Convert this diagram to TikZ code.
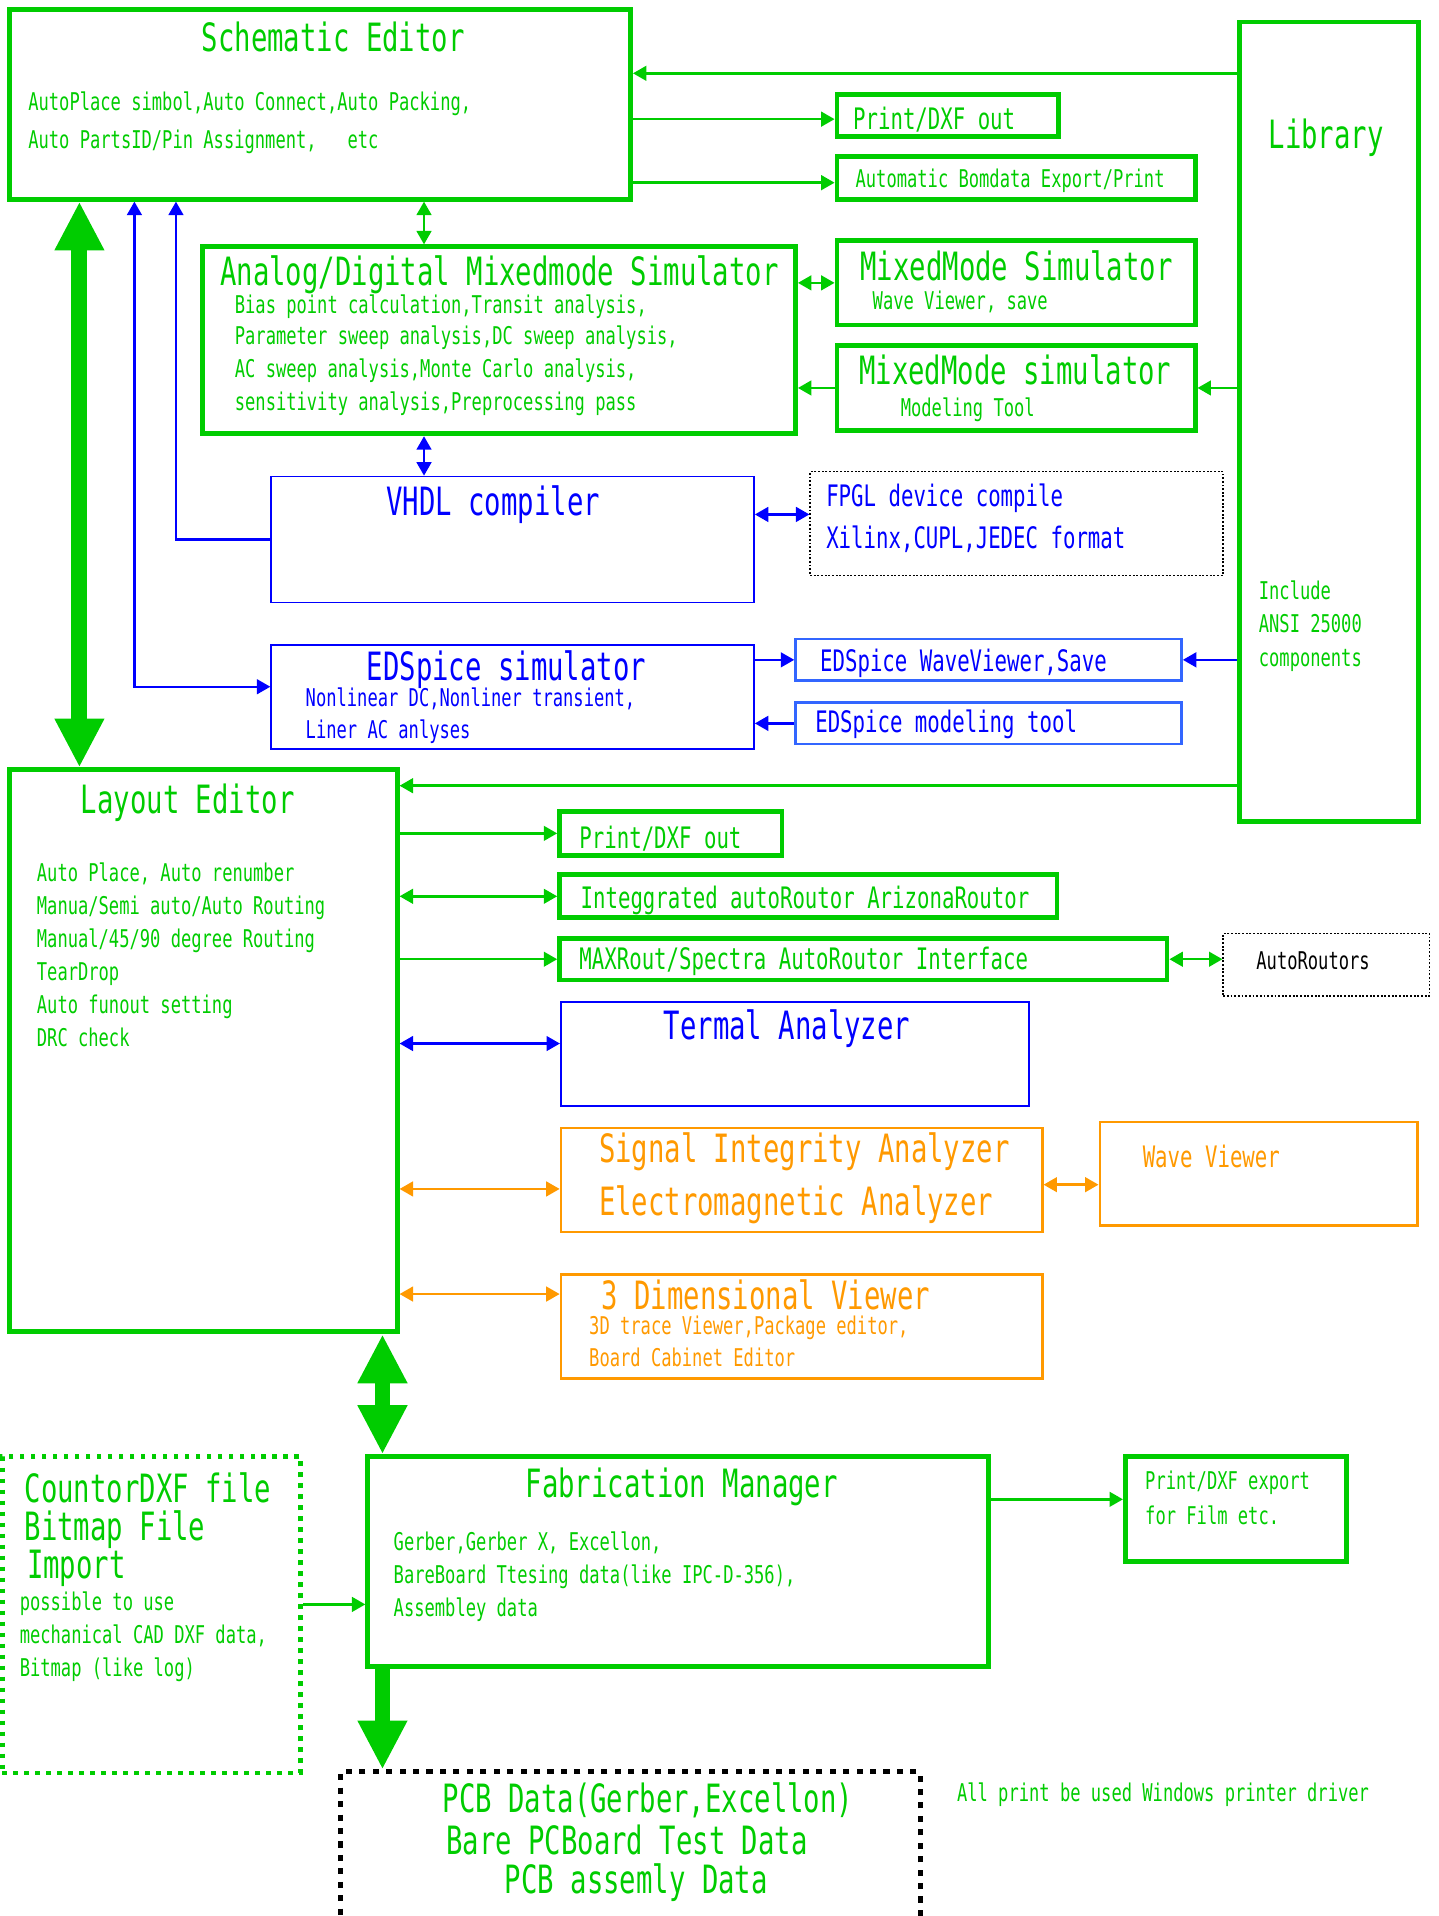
\documentclass[tikz,border=0pt]{standalone}
\usepackage{fontspec}
\usetikzlibrary{arrows.meta}
\newfontfamily\gothic[FakeStretch=0.7]{DejaVu Sans Mono}
\definecolor{cadgreen}{RGB}{0,204,0}
\definecolor{cadblue}{RGB}{0,0,255}
\definecolor{paleblue}{RGB}{51,102,255}
\definecolor{cadorange}{RGB}{255,153,0}

\tikzset{
  gbox/.style={draw=cadgreen, line width=4pt, inner sep=0pt},
  bbox/.style={draw=cadblue, line width=1.5pt, inner sep=0pt},
  pbox/.style={draw=paleblue, line width=2pt, inner sep=0pt},
  obox/.style={draw=cadorange, line width=2pt, inner sep=0pt},
  kbox/.style={draw=black, line width=1.2pt, dash pattern=on 1.5pt off 1.5pt, inner sep=0pt},
  gdots/.style={draw=cadgreen, line width=4pt, dash pattern=on 4pt off 5pt, inner sep=0pt},
  kdots/.style={draw=black, line width=4pt, dash pattern=on 5pt off 6pt, inner sep=0pt},
  ttl/.style={font=\gothic\fontsize{31.9}{36}\selectfont, inner sep=0pt, anchor=west, text height=23pt, text depth=0pt},
  mtx/.style={font=\gothic\fontsize{24.2}{28}\selectfont, inner sep=0pt, anchor=west, text height=17.5pt, text depth=0pt},
  stx/.style={font=\gothic\fontsize{20}{24}\selectfont, inner sep=0pt, anchor=west, text height=14.5pt, text depth=0pt},
  onehead/.style={-{Triangle[length=11pt,width=12pt]}},
  twoheads/.style={{Triangle[length=11pt,width=12pt]}-{Triangle[length=11pt,width=12pt]}},
  gline/.style={draw=cadgreen, line width=2pt},
  bline/.style={draw=cadblue, line width=2pt},
  oline/.style={draw=cadorange, line width=2pt},
  bigarrow/.style={draw=cadgreen, line width=13pt},
  fathead/.style={-{Triangle[length=40pt,width=38pt]}},
  fatheads/.style={{Triangle[length=40pt,width=38pt]}-{Triangle[length=40pt,width=38pt]}},
}

\begin{document}
\begin{tikzpicture}[x=1pt,y=1pt]
\useasboundingbox (0,0) rectangle (1177,-1568);
\clip (0,0) rectangle (1177,-1568);

% boxes
\node[gbox, minimum width=508pt, minimum height=155pt] (sch) at (262,-85.5) {};
\node[gbox, minimum width=147pt, minimum height=654pt] (lib) at (1087.5,-345) {};
\node[gbox, minimum width=181pt, minimum height=35pt] (pdfa) at (775.5,-94.5) {};
\node[gbox, minimum width=293pt, minimum height=35pt] (bom) at (831.5,-145.5) {};
\node[gbox, minimum width=485pt, minimum height=153pt] (mixsim) at (408.5,-278.5) {};
\node[gbox, minimum width=293pt, minimum height=69pt] (wave1) at (831.5,-231.5) {};
\node[gbox, minimum width=293pt, minimum height=69pt] (model1) at (831.5,-317.5) {};
\node[bbox, minimum width=395pt, minimum height=103pt] (vhdl) at (419.5,-441.5) {};
\node[kbox, minimum width=338pt, minimum height=85pt] (fpgl) at (832,-428.5) {};
\node[bbox, minimum width=395pt, minimum height=85pt] (edspice) at (419.5,-570.5) {};
\node[pbox, minimum width=316pt, minimum height=34pt] (edwave) at (809,-540) {};
\node[pbox, minimum width=316pt, minimum height=34pt] (edmodel) at (809,-592) {};
\node[gbox, minimum width=317pt, minimum height=460pt] (lay) at (166.5,-860) {};
\node[gbox, minimum width=182pt, minimum height=36pt] (pdfb) at (549,-682) {};
\node[gbox, minimum width=407pt, minimum height=35pt] (integ) at (661.5,-733.5) {};
\node[gbox, minimum width=497pt, minimum height=34pt] (maxr) at (706.5,-785) {};
\node[kbox, minimum width=169pt, minimum height=51pt] (autor) at (1085.5,-789.5) {};
\node[bbox, minimum width=383pt, minimum height=85pt] (termal) at (650.5,-862.5) {};
\node[obox, minimum width=394pt, minimum height=85pt] (signal) at (656,-965.5) {};
\node[obox, minimum width=260pt, minimum height=85pt] (wavev) at (1030,-960.5) {};
\node[obox, minimum width=394pt, minimum height=85pt] (threed) at (656,-1085.5) {};
\node[gdots, minimum width=244pt, minimum height=259pt] (countor) at (124,-1321.5) {};
\node[gbox, minimum width=508pt, minimum height=172pt] (fab) at (555,-1278) {};
\node[gbox, minimum width=181pt, minimum height=86pt] (pdfc) at (1011.5,-1235) {};
\node[kdots, minimum width=474pt, minimum height=150pt] (pcb) at (516,-1525) {};

% green texts
\begin{scope}[text=cadgreen]
  \node[ttl] (sch-t) at (165,-31) {Schematic Editor};
  \node[stx] (sch-a) at (23,-83) {AutoPlace simbol,Auto Connect,Auto Packing,};
  \node[stx] (sch-b) at (23,-114) {Auto PartsID/Pin Assignment,\ \ \ etc};
  \node[ttl] (lib-t) at (1038,-110) {Library};
  \node[stx] (lib-a) at (1030,-483) {Include};
  \node[stx] (lib-b) at (1030,-510) {ANSI 25000};
  \node[stx] (lib-c) at (1030,-538) {components};
  \node[mtx] (pdfa-t) at (698,-97) {Print/DXF out};
  \node[stx] (bom-t) at (700,-146) {Automatic Bomdata Export/Print};
  \node[ttl] (mix-t) at (180,-222) {Analog/Digital Mixedmode Simulator};
  \node[stx] (mix-a) at (192,-249) {Bias point calculation,Transit analysis,};
  \node[stx] (mix-b) at (192,-275) {Parameter sweep analysis,DC sweep analysis,};
  \node[stx] (mix-c) at (192,-302) {AC sweep analysis,Monte Carlo analysis,};
  \node[stx] (mix-d) at (192,-329) {sensitivity analysis,Preprocessing pass};
  \node[ttl] (wave1-t) at (704,-218) {MixedMode Simulator};
  \node[stx] (wave1-a) at (714,-246) {Wave Viewer, save};
  \node[ttl] (model1-t) at (703,-303) {MixedMode simulator};
  \node[stx] (model1-a) at (737,-334) {Modeling Tool};
  \node[ttl] (lay-t) at (66,-654) {Layout Editor};
  \node[stx] (lay-a) at (30,-714) {Auto Place, Auto renumber};
  \node[stx] (lay-b) at (30,-741) {Manua/Semi auto/Auto Routing};
  \node[stx] (lay-c) at (30,-768) {Manual/45/90 degree Routing};
  \node[stx] (lay-d) at (30,-795) {TearDrop};
  \node[stx] (lay-e) at (30,-822) {Auto funout setting};
  \node[stx] (lay-f) at (30,-849) {DRC check};
  \node[mtx] (pdfb-t) at (474,-686) {Print/DXF out};
  \node[mtx] (integ-t) at (475,-735) {Integgrated autoRoutor ArizonaRoutor};
  \node[mtx] (maxr-t) at (474,-785) {MAXRout/Spectra AutoRoutor Interface};
  \node[ttl] (cnt-a) at (20,-1218) {CountorDXF file};
  \node[ttl] (cnt-b) at (20,-1249) {Bitmap File};
  \node[ttl] (cnt-c) at (22,-1280) {Import};
  \node[stx] (cnt-d) at (16,-1311) {possible to use};
  \node[stx] (cnt-e) at (16,-1338) {mechanical CAD DXF data,};
  \node[stx] (cnt-f) at (16,-1365) {Bitmap (like log)};
  \node[ttl] (fab-t) at (430,-1214) {Fabrication Manager};
  \node[stx] (fab-a) at (322,-1262) {Gerber,Gerber X, Excellon,};
  \node[stx] (fab-b) at (322,-1289) {BareBoard Ttesing data(like IPC-D-356),};
  \node[stx] (fab-c) at (322,-1316) {Assembley data};
  \node[stx] (pdfc-a) at (937,-1212) {Print/DXF export};
  \node[stx] (pdfc-b) at (937,-1240) {for Film etc.};
  \node[ttl] (pcb-a) at (362,-1472) {PCB Data(Gerber,Excellon)};
  \node[ttl] (pcb-b) at (365,-1506) {Bare PCBoard Test Data};
  \node[ttl] (pcb-c) at (413,-1538) {PCB assemly Data};
  \node[stx] (note) at (783,-1467) {All print be used Windows printer driver};
\end{scope}

% blue texts
\begin{scope}[text=cadblue]
  \node[ttl] (vhdl-t) at (316,-410) {VHDL compiler};
  \node[mtx] (fpgl-a) at (676,-406) {FPGL device compile};
  \node[mtx] (fpgl-b) at (676,-440) {Xilinx,CUPL,JEDEC format};
  \node[ttl] (eds-t) at (300,-545) {EDSpice simulator};
  \node[stx] (eds-a) at (250,-571) {Nonlinear DC,Nonliner transient,};
  \node[stx] (eds-b) at (250,-597) {Liner AC anlyses};
  \node[mtx] (edwave-t) at (671,-541) {EDSpice WaveViewer,Save};
  \node[mtx] (edmodel-t) at (667,-591) {EDSpice modeling tool};
  \node[ttl] (termal-t) at (543,-839) {Termal Analyzer};
\end{scope}

% orange texts
\begin{scope}[text=cadorange]
  \node[ttl] (sig-a) at (490,-940) {Signal Integrity Analyzer};
  \node[ttl] (sig-b) at (490,-983) {Electromagnetic Analyzer};
  \node[mtx] (wavev-t) at (935,-947) {Wave Viewer};
  \node[ttl] (threed-t) at (492,-1060) {3 Dimensional Viewer};
  \node[stx] (threed-a) at (482,-1085) {3D trace Viewer,Package editor,};
  \node[stx] (threed-b) at (482,-1111) {Board Cabinet Editor};
\end{scope}
\node[stx] (autor-t) at (1028,-786) {AutoRoutors};

% tap points
\coordinate (l1) at ([yshift=-44pt]lib.north west);
\coordinate (l2) at ([yshift=31pt]lib.south west);
\coordinate (m1) at ([xshift=183pt]mixsim.north west);
\coordinate (s1) at ([xshift=59pt]sch.south west);
\coordinate (s2) at ([xshift=104pt]sch.south west);
\coordinate (s3) at ([xshift=138pt]sch.south west);
\coordinate (f1) at ([xshift=14pt]fab.north west);
\coordinate (a1) at ([yshift=-3pt]pdfa.west);
\coordinate (a2) at ([yshift=-4pt]bom.west);
\coordinate (p1) at ([yshift=7.5pt]fpgl.west);
\coordinate (e1) at ([yshift=8.5pt]edspice.west);
\coordinate (t1) at ([yshift=8.5pt]termal.west);
\coordinate (o1) at ([yshift=-7.5pt]signal.west);
\coordinate (o2) at ([yshift=-4pt]signal.east);
\coordinate (o3) at ([yshift=26.5pt]threed.west);
\coordinate (c1) at ([yshift=8.5pt]countor.east);
\coordinate (p2) at ([yshift=8pt]pdfc.west);

% library feeds
\draw[gline, onehead] (l1) -- (sch.east |- l1);
\draw[gline, onehead] (lib.west |- model1.east) -- (model1.east);
\draw[bline, onehead] (lib.west |- edwave.east) -- (edwave.east);
\draw[gline, onehead] (l2) -- (lay.east |- l2);

% schematic side
\draw[gline, onehead] (sch.east |- a1) -- (a1);
\draw[gline, onehead] (sch.east |- a2) -- (a2);
\draw[gline, twoheads] (sch.south -| m1) -- (m1);
\draw[gline, twoheads] (mixsim.east |- wave1.west) -- (wave1.west);
\draw[gline, onehead] (model1.west) -- (mixsim.east |- model1.west);
\draw[bline, twoheads] (mixsim.south -| m1) -- (vhdl.north -| m1);
\draw[bline, onehead] (vhdl.west) -| (s3);
\draw[bline, twoheads] (s2) |- (e1);
\draw[bline, twoheads] (vhdl.east |- p1) -- (p1);
\draw[bline, onehead] (edspice.east |- edwave.west) -- (edwave.west);
\draw[bline, onehead] (edmodel.west) -- (edspice.east |- edmodel.west);
\draw[bigarrow, fatheads] (s1) -- (lay.north -| s1);

% layout side
\draw[gline, onehead] (lay.east |- pdfb.west) -- (pdfb.west);
\draw[gline, twoheads] (lay.east |- integ.west) -- (integ.west);
\draw[gline, onehead] (lay.east |- maxr.west) -- (maxr.west);
\draw[gline, twoheads] (maxr.east) -- (autor.west |- maxr.east);
\draw[bline, twoheads] (lay.east |- t1) -- (t1);
\draw[oline, twoheads] (lay.east |- o1) -- (o1);
\draw[oline, twoheads] (o2) -- (wavev.west |- o2);
\draw[oline, twoheads] (lay.east |- o3) -- (o3);
\draw[bigarrow, fatheads] (lay.south -| f1) -- (f1);

% fabrication
\draw[gline, onehead] (c1) -- (fab.west |- c1);
\draw[gline, onehead] (fab.east |- p2) -- (p2);
\draw[bigarrow, fathead] (fab.south -| f1) -- (pcb.north -| f1);
\end{tikzpicture}
\end{document}
